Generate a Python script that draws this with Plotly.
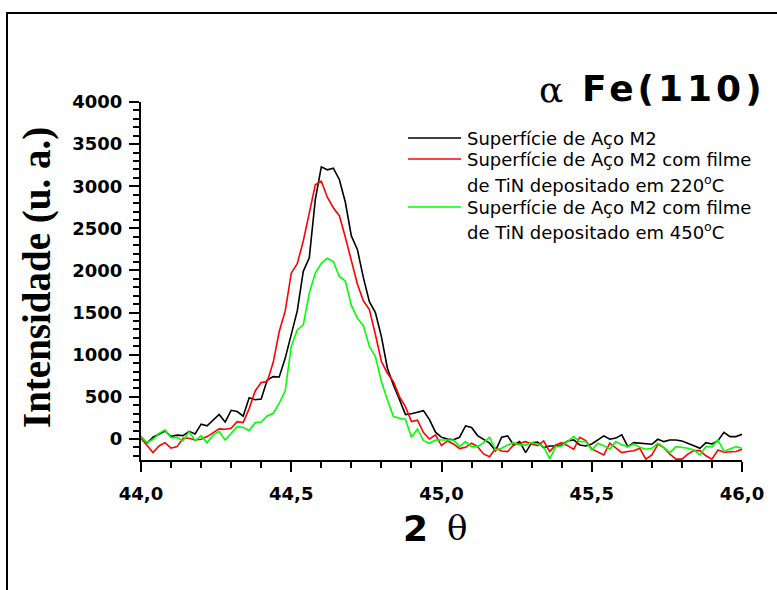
import numpy as np
import plotly.graph_objects as go

# 2-theta scan, 0.02 degree step
two_theta = np.round(np.arange(44.0, 46.0001, 0.02), 2)

# Uncoated M2 steel surface
intens_m2 = [30, -50, 20, 60, 95, 30, 45, 40, 90, 60,
             175, 155, 225, 290, 200, 340, 325, 270, 490, 465,
             475, 700, 740, 735, 960, 1255, 1520, 1990, 2150, 2840,
             3230, 3195, 3215, 3080, 2810, 2410, 2250, 1915, 1630, 1500,
             1215, 840, 640, 470, 290, 300, 320, 336, 230, 80,
             20, 0, -10, 20, 154, 135, 40, 0, -50, -139,
             20, 36, -71, -32, -162, -44, -36, -103, -83, -83,
             -71, -24, -12, -71, -83, -59, -10, 36, -4, 10,
             48, -91, -44, -48, -55, -63, -4, -32, -12, -12,
             -25, -50, -80, -111, -44, -59, -20, 79, 28, 28,
             55]

# M2 steel with TiN film deposited at 220 C
intens_tin_220 = [8, -83, -160, -83, -44, -110, -91, 8, 8, -12,
                  -4, 28, 75, 119, 115, 127, 206, 194, 360, 570,
                  670, 680, 910, 1275, 1520, 1968, 2080, 2350, 2681, 3017,
                  3060, 2870, 2745, 2650, 2395, 2125, 1840, 1640, 1535, 1240,
                  919, 780, 681, 503, 384, 206, 222, 75, 0, 48,
                  -79, -24, -59, -115, -100, -51, -91, -178, -210, -111,
                  -143, -150, -71, -50, -32, -60, -79, -24, -150, -71,
                  -44, -80, -123, 20, -20, -119, -150, -190, -51, -111,
                  -162, -150, -140, -111, -240, -190, -63, -103, -180, -240,
                  -240, -180, -139, -139, -200, -240, -131, -158, -150, -150,
                  -123]

# M2 steel with TiN film deposited at 450 C
intens_tin_450 = [28, -44, -4, 67, 107, 16, 16, -20, 87, -20,
                  36, -44, 48, 87, -12, 67, 146, 139, 99, 194,
                  200, 273, 305, 424, 574, 1097, 1295, 1354, 1731, 1968,
                  2085, 2145, 2107, 1929, 1875, 1585, 1434, 1345, 1097, 978,
                  681, 463, 265, 246, 234, 20, 119, -20, -51, -12,
                  -12, -12, -12, -91, -32, -91, -91, -44, 20, -131,
                  -111, -71, -44, -71, -71, -44, -60, -91, -238, -91,
                  -83, -30, 28, -32, -32, -131, -51, -80, -123, -32,
                  -70, -91, -59, -100, -123, -111, -51, -100, -162, -91,
                  -100, -111, -131, -190, -91, -91, -12, -150, -120, -91,
                  -111]

series_colors = ["#000000", "#ff0000", "#00ff00"]
legend_lines = [
    ["Superfície de Aço M2"],
    ["Superfície de Aço M2 com filme", "de TiN depositado em 220<sup>o</sup>C"],
    ["Superfície de Aço M2 com filme", "de TiN depositado em 450<sup>o</sup>C"],
]

# Plot-area geometry in pixels
W_FIG, H_FIG = 777, 590
L, R, T, B = 141, 742, 102, 460


def px(x):
    return (x - L) / (R - L)


def py(y):
    return (B - y) / (B - T)


fig = go.Figure()
for vals, col, lab in zip([intens_m2, intens_tin_220, intens_tin_450],
                          series_colors, legend_lines):
    fig.add_trace(go.Scatter(
        x=two_theta, y=vals, mode="lines",
        line=dict(color=col, width=1.6),
        name=" ".join(lab), showlegend=False,
    ))

tick_font = dict(family="DejaVu Sans", size=18, color="black", weight="bold")

axis_common = dict(
    showline=True, linecolor="black", linewidth=2,
    ticks="outside", ticklen=10, tickwidth=2, tickcolor="black",
    showgrid=False, zeroline=False, tickfont=tick_font,
)

fig.update_layout(
    width=W_FIG, height=H_FIG,
    margin=dict(l=L, r=W_FIG - R, t=T, b=H_FIG - B),
    paper_bgcolor="white", plot_bgcolor="white",
    separators=",.",
    showlegend=False,
    xaxis=dict(range=[44.0, 46.0], tick0=44.0, dtick=0.5, tickformat=".1f",
               ticklabelstandoff=6,
               minor=dict(dtick=0.1, ticks="outside", ticklen=6, tickwidth=1.5,
                          tickcolor="black", showgrid=False),
               **axis_common),
    yaxis=dict(range=[-250, 4000], tick0=0, dtick=500, tickformat="d",
               ticklabelstandoff=3,
               minor=dict(dtick=100, ticks="outside", ticklen=6, tickwidth=1.5,
                          tickcolor="black", showgrid=False),
               **axis_common),
)

shapes = []
annotations = []

# Outer frame
shapes.append(dict(type="rect", xref="paper", yref="paper",
                   x0=px(7), x1=px(800), y0=py(620), y1=py(13),
                   line=dict(color="black", width=2), fillcolor="rgba(0,0,0,0)"))

# Legend: line samples and labels
legend_rows = [138, 159, 184, 207, 231]
row = 0
for col, lab in zip(series_colors, legend_lines):
    shapes.append(dict(type="line", xref="paper", yref="paper",
                       x0=px(408), x1=px(461),
                       y0=py(legend_rows[row]), y1=py(legend_rows[row]),
                       line=dict(color=col, width=1.6)))
    for text in lab:
        annotations.append(dict(
            x=px(465), y=py(legend_rows[row]), xref="paper", yref="paper",
            xanchor="left", yanchor="middle", showarrow=False, text=text,
            font=dict(family="DejaVu Sans", size=18, color="black")))
        row += 1

# Peak label
annotations.append(dict(x=px(551), y=py(90), xref="paper", yref="paper",
                        xanchor="center", yanchor="middle", showarrow=False,
                        text="α",
                        font=dict(family="DejaVu Serif", size=36, color="black")))
annotations.append(dict(x=px(674), y=py(88), xref="paper", yref="paper",
                        xanchor="center", yanchor="middle", showarrow=False,
                        text='<span style="letter-spacing:4px">Fe(110)</span>',
                        font=dict(family="DejaVu Sans", size=36, color="black",
                                  weight="bold")))

# Axis titles
annotations.append(dict(x=px(37), y=py(277), xref="paper", yref="paper",
                        xanchor="center", yanchor="middle", showarrow=False,
                        textangle=-90, text="Intensidade (u. a.)",
                        font=dict(family="Liberation Serif", size=39,
                                  color="black", weight="bold")))
annotations.append(dict(x=px(415), y=py(528), xref="paper", yref="paper",
                        xanchor="center", yanchor="middle", showarrow=False,
                        text="2",
                        font=dict(family="DejaVu Sans", size=36, color="black",
                                  weight="bold")))
annotations.append(dict(x=px(457), y=py(528), xref="paper", yref="paper",
                        xanchor="center", yanchor="middle", showarrow=False,
                        text="θ",
                        font=dict(family="DejaVu Serif", size=34, color="black")))

fig.update_layout(shapes=shapes, annotations=annotations)

fig.write_html("out.html")
